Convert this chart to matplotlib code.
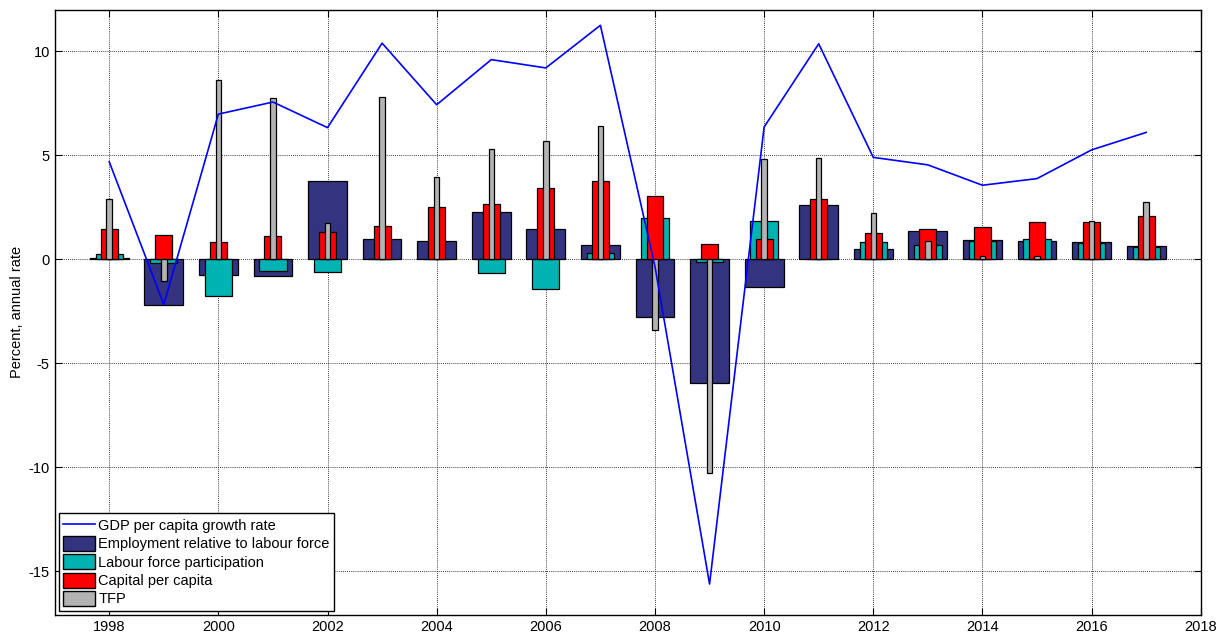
import matplotlib
matplotlib.use("Agg")
import matplotlib.pyplot as plt
from matplotlib.patches import Patch
from matplotlib.lines import Line2D
import numpy as np

plt.rcParams['font.family'] = ['Liberation Sans', 'DejaVu Sans']
plt.rcParams['axes.unicode_minus'] = False

years = list(range(1998, 2018))

gdp_per_capita = [4.69, -2.17, 6.98, 7.56, 6.33, 10.39, 7.43, 9.60, 9.20, 11.25,
                  -0.35, -15.61, 6.36, 10.36, 4.90, 4.54, 3.56, 3.88, 5.26, 6.10]
employment = [0.05, -2.19, -0.76, -0.79, 3.77, 0.96, 0.88, 2.29, 1.47, 0.69,
              -2.76, -5.96, -1.35, 2.62, 0.51, 1.36, 0.91, 0.88, 0.83, 0.66]
participation = [0.24, -0.18, -1.75, -0.56, -0.60, 0.0, 0.0, -0.67, -1.45, 0.29,
                 1.99, -0.11, 1.85, 0.0, 0.82, 0.69, 0.88, 0.96, 0.77, 0.58]
capital = [1.44, 1.17, 0.83, 1.11, 1.33, 1.59, 2.50, 2.66, 3.43, 3.77,
           3.03, 0.72, 0.96, 2.89, 1.25, 1.47, 1.54, 1.81, 1.78, 2.07]
tfp = [2.92, -1.05, 8.60, 7.74, 1.73, 7.79, 3.96, 5.30, 5.71, 6.41,
       -3.42, -10.29, 4.82, 4.85, 2.21, 0.87, 0.14, 0.17, 1.84, 2.74]

series_labels = ["GDP per capita growth rate",
                 "Employment relative to labour force",
                 "Labour force participation",
                 "Capital per capita",
                 "TFP"]

c_line = "#0000ff"
c_emp = "#333380"
c_part = "#00b3b3"
c_cap = "#ff0000"
c_tfp = "#b3b3b3"

fig = plt.figure(figsize=(12.28, 6.37), dpi=100)
ax = fig.add_axes([0.0445, 0.0345, 0.9333, 0.9503])

x = np.array(years, dtype=float)
edge = dict(edgecolor="black", linewidth=0.9)
ax.bar(x, employment, width=0.71, color=c_emp, zorder=2, **edge)
ax.bar(x, participation, width=0.50, color=c_part, zorder=3, **edge)
ax.bar(x, capital, width=0.31, color=c_cap, zorder=4, **edge)
ax.bar(x, tfp, width=0.10, color=c_tfp, zorder=5, **edge)
ax.plot(x, gdp_per_capita, color=c_line, linewidth=1.2, zorder=6)

ax.set_xlim(1997, 2018)
ax.set_ylim(-17.1, 12)
ax.set_xticks(range(1998, 2019, 2))
ax.set_yticks([-15, -10, -5, 0, 5, 10])
ax.grid(True, color="black", linestyle=(0, (1, 1.5)), linewidth=0.6, zorder=0)
ax.set_axisbelow(True)
ax.tick_params(direction="in", top=True, right=True, length=5, width=0.8,
               labelsize=10.5)
for s in ax.spines.values():
    s.set_linewidth(1.0)
ax.set_ylabel("Percent, annual rate", fontsize=10.5)
ax.yaxis.set_label_coords(-0.027, 0.5)

handles = [Line2D([0], [0], color=c_line, linewidth=1.2),
           Patch(facecolor=c_emp, edgecolor="black"),
           Patch(facecolor=c_part, edgecolor="black"),
           Patch(facecolor=c_cap, edgecolor="black"),
           Patch(facecolor=c_tfp, edgecolor="black")]
leg = ax.legend(handles, series_labels, loc="lower left", fontsize=10.5,
                frameon=True, fancybox=False, framealpha=1, edgecolor="black",
                handlelength=2.2, handleheight=1.2, handletextpad=0.2,
                labelspacing=0.2, borderpad=0.3, borderaxespad=0.3)
leg.get_frame().set_linewidth(1.0)
leg.set_zorder(10)

fig.savefig("out.png", dpi=100)
